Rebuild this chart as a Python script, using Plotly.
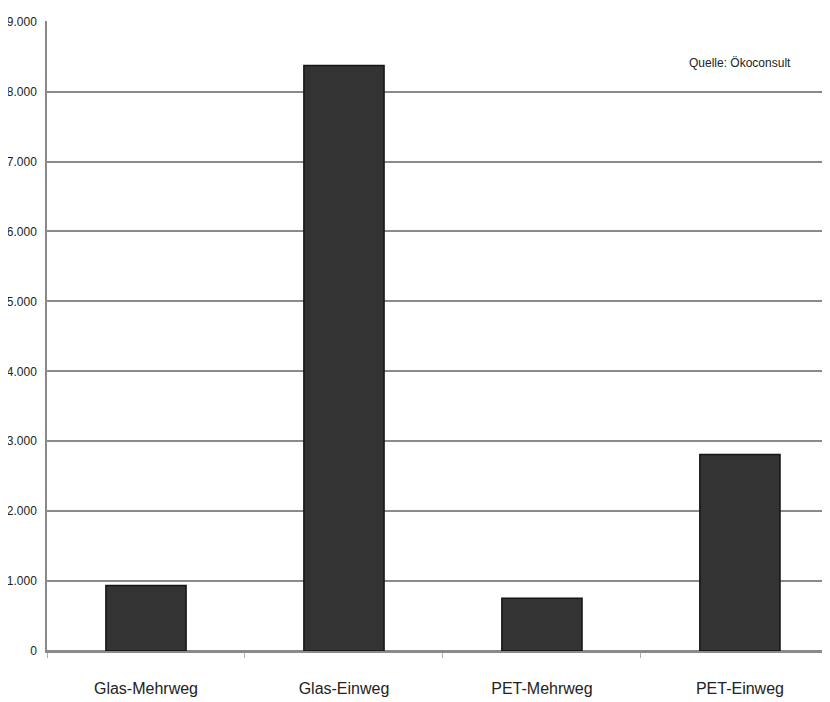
import plotly.graph_objects as go

categories = ["Glas-Mehrweg", "Glas-Einweg", "PET-Mehrweg", "PET-Einweg"]
values = [935, 8375, 755, 2810]
y_ticks = [0, 1000, 2000, 3000, 4000, 5000, 6000, 7000, 8000, 9000]
source_text = "Quelle: Ökoconsult"

FONT = "Liberation Sans, Arial, sans-serif"

fig = go.Figure()
fig.add_trace(go.Bar(
    x=categories,
    y=values,
    width=0.405,
    marker=dict(color="#333333", line=dict(color="#151515", width=1.5)),
))

# page body has an 8px default margin; compensate in the figure margins
fig.update_layout(
    width=830,
    height=702,
    margin=dict(l=39, r=8, t=13, b=59),
    paper_bgcolor="white",
    plot_bgcolor="white",
    separators=",.",
    showlegend=False,
    font=dict(family=FONT, color="#222222"),
    annotations=[dict(
        text=source_text,
        xref="paper", yref="paper",
        x=(739.5 - 47) / 783, y=(651 - 63) / 630,
        xanchor="center", yanchor="middle",
        showarrow=False,
        font=dict(family=FONT, size=12, color="#222222"),
    )],
)

fig.update_xaxes(
    range=[-0.5, 3.455],
    automargin=False,
    showgrid=False,
    showline=True,
    linecolor="#8a8a8a",
    linewidth=1.5,
    ticks="outside",
    tickson="boundaries",
    ticklen=5,
    tickcolor="#b0b0b0",
    tickfont=dict(family=FONT, size=16, color="#222222"),
    ticklabelstandoff=22,
)

fig.update_yaxes(
    range=[0, 9010],
    automargin=False,
    tickvals=y_ticks,
    tickformat=",d",
    showgrid=True,
    gridcolor="#8a8a8a",
    gridwidth=1.5,
    zeroline=True,
    zerolinecolor="#8a8a8a",
    zerolinewidth=1.5,
    showline=True,
    linecolor="#8a8a8a",
    linewidth=1.5,
    ticks="",
    tickfont=dict(family=FONT, size=12, color="#222222"),
    ticklabelstandoff=6,
)

fig.write_html("out.html")
